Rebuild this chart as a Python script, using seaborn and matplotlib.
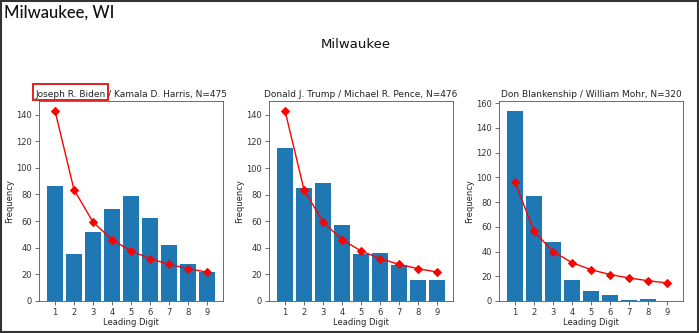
import matplotlib
matplotlib.use("Agg")
import matplotlib.pyplot as plt
import seaborn as sns
import pandas as pd
from matplotlib.patches import Rectangle

digits = [1, 2, 3, 4, 5, 6, 7, 8, 9]
titles = [
    "Joseph R. Biden / Kamala D. Harris, N=475",
    "Donald J. Trump / Michael R. Pence, N=476",
    "Don Blankenship / William Mohr, N=320",
]
biden_counts = [86, 35, 52, 69, 79, 62, 42, 28, 22]
trump_counts = [115, 85, 89, 57, 35, 36, 27, 16, 16]
blank_counts = [154, 85, 48, 17, 8, 5, 1, 2, 0]
biden_expected = [143.0, 83.6, 59.3, 46.0, 37.6, 31.8, 27.5, 24.3, 21.7]
trump_expected = [143.3, 83.8, 59.5, 46.1, 37.7, 31.9, 27.6, 24.3, 21.8]
blank_expected = [96.3, 56.4, 40.0, 31.0, 25.3, 21.4, 18.6, 16.4, 14.6]

counts = [biden_counts, trump_counts, blank_counts]
expected = [biden_expected, trump_expected, blank_expected]

sns.set_style("white")
plt.rcParams["font.family"] = ["DejaVu Sans"]

fig = plt.figure(figsize=(6.99, 3.33), dpi=100)
W, H = 699, 333
lefts = [39, 269, 499]
for i in range(3):
    ax = fig.add_axes([lefts[i] / W, 1 - 301 / H, 184 / W, 200 / H])
    df = pd.DataFrame({"digit": digits, "count": counts[i]})
    sns.barplot(data=df, x="digit", y="count", native_scale=True, color="#1f77b4",
                saturation=1, width=0.8, ax=ax, edgecolor="none", linewidth=0)
    sns.lineplot(x=digits, y=expected[i], color="red", marker="D", markersize=4.5,
                 markeredgecolor="red", linewidth=1, ax=ax)
    ax.set_xticks(digits)
    ax.set_xlabel("Leading Digit", fontsize=6, labelpad=0.5)
    ax.set_ylabel("Frequency", fontsize=6, labelpad=1.5)
    ax.set_title(titles[i], fontsize=6.5, pad=3, color="#222222")
    ax.tick_params(labelsize=6, length=3, width=0.6, left=True, bottom=True, pad=2,
                   labelcolor="#333333", color="#555555")
    for s in ax.spines.values():
        s.set_linewidth(0.6)
        s.set_color("#555555")
    ax.margins(x=0.05)

fig.text(4 / W, 1 - 13 / H, "Milwaukee, WI", fontsize=12, family="Lato", va="center",
         ha="left", color="#111111", fontweight="medium")
fig.text(356 / W, 1 - 45 / H, "Milwaukee", fontsize=9.5, ha="center", va="center",
         color="#111111")

fig.add_artist(Rectangle((33 / W, 1 - 100 / H), 75 / W, 16 / H, transform=fig.transFigure,
                         fill=False, edgecolor="#e02020", linewidth=1.4))
fig.add_artist(Rectangle((0.5 / W, 1.5 / H), 697 / W, 331 / H, transform=fig.transFigure,
                         fill=False, edgecolor="#333333", linewidth=1.5))

fig.savefig("out.png", dpi=100)
